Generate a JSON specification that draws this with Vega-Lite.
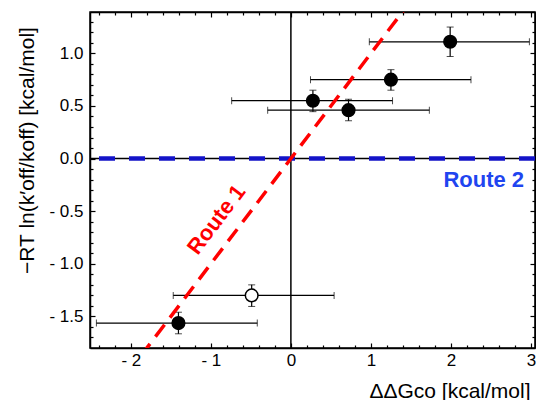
{
  "$schema": "https://vega.github.io/schema/vega-lite/v6.json",
  "autosize": "none",
  "width": 445,
  "height": 336,
  "padding": {"left": 90, "top": 12, "right": 1, "bottom": 52},
  "background": "white",
  "config": {
    "view": {"stroke": "black", "strokeWidth": 1.5},
    "font": "Liberation Sans",
    "axis": {
      "domainColor": "black", "domainWidth": 1.5, "tickColor": "black", "tickWidth": 1.2,
      "grid": false, "labelFont": "Liberation Sans", "labelFontSize": 17, "labelColor": "black",
      "titleFont": "Liberation Sans", "titleFontSize": 21, "titleFontWeight": "normal", "titleColor": "black",
      "labelFlush": false, "labelOverlap": false
    }
  },
  "datasets": {
    "pts": [
      {"x": 1.99, "y": 1.11, "xlo": 0.98, "xhi": 2.98, "ylo": 0.97, "yhi": 1.25, "kind": "filled"},
      {"x": 1.25, "y": 0.75, "xlo": 0.245, "xhi": 2.25, "ylo": 0.65, "yhi": 0.845, "kind": "filled"},
      {"x": 0.275, "y": 0.55, "xlo": -0.74, "xhi": 1.27, "ylo": 0.446, "yhi": 0.65, "kind": "filled"},
      {"x": 0.72, "y": 0.46, "xlo": -0.29, "xhi": 1.73, "ylo": 0.36, "yhi": 0.564, "kind": "filled"},
      {"x": -0.49, "y": -1.30, "xlo": -1.47, "xhi": 0.54, "ylo": -1.405, "yhi": -1.20, "kind": "open"},
      {"x": -1.405, "y": -1.563, "xlo": -2.43, "xhi": -0.42, "ylo": -1.665, "yhi": -1.46, "kind": "filled"}
    ],
    "route1": [{"x": -2.6, "y": -2.6}, {"x": 3.1, "y": 3.1}],
    "zero": [{"v": 0}],
    "lab1": [{"x": -0.93, "y": -0.58, "t": "Route 1"}],
    "lab2": [{"x": 2.41, "y": -0.20, "t": "Route 2"}]
  },
  "resolve": {"axis": {"x": "independent", "y": "independent"}},
  "layer": [
    {
      "data": {"name": "pts"},
      "mark": {"type": "errorbar", "ticks": {"size": 7, "color": "black"}, "rule": {"strokeWidth": 1.2, "color": "black"}, "color": "black"},
      "encoding": {
        "x": {"field": "xlo", "type": "quantitative",
              "scale": {"domain": [-2.51, 3.05], "nice": false, "zero": false},
              "axis": {"orient": "bottom", "values": [-2, -1, 0, 1, 2, 3], "tickSize": -5, "labelPadding": 9,
                       "labelExpr": "datum.value < 0 ? '- ' + format(-datum.value, 'd') : format(datum.value, 'd')",
                       "title": "ΔΔGco [kcal/mol]", "titleAnchor": "end", "titleAlign": "right", "titleX": 440, "titleY": 32, "titleBaseline": "top"}},
        "x2": {"field": "xhi"},
        "y": {"field": "y", "type": "quantitative",
              "scale": {"domain": [-1.8, 1.393], "nice": false, "zero": false},
              "axis": {"orient": "left", "values": [-1.5, -1, -0.5, 0, 0.5, 1], "tickSize": -5, "labelPadding": 12,
                       "labelExpr": "datum.value < 0 ? '- ' + format(-datum.value, '.1f') : format(datum.value, '.1f')",
                       "title": "−RT ln(k′off/koff)  [kcal/mol]", "titleX": -63, "titleY": 138, "titleAngle": -90, "titleAlign": "center", "titleBaseline": "middle"}}
      }
    },
    {
      "data": {"name": "pts"},
      "mark": {"type": "errorbar", "ticks": {"size": 7, "color": "black"}, "rule": {"strokeWidth": 1.2, "color": "black"}, "color": "black"},
      "encoding": {
        "y": {"field": "ylo", "type": "quantitative",
              "axis": {"orient": "left", "values": [-1.7,-1.6,-1.4,-1.3,-1.2,-1.1,-0.9,-0.8,-0.7,-0.6,-0.4,-0.3,-0.2,-0.1,0.1,0.2,0.3,0.4,0.6,0.7,0.8,0.9,1.1,1.2,1.3],
                       "tickSize": -3, "labels": false, "title": null, "domain": false}},
        "y2": {"field": "yhi"},
        "x": {"field": "x", "type": "quantitative",
              "axis": {"orient": "bottom", "values": [-2.4,-2.2,-1.8,-1.6,-1.4,-1.2,-0.8,-0.6,-0.4,-0.2,0.2,0.4,0.6,0.8,1.2,1.4,1.6,1.8,2.2,2.4,2.6,2.8],
                       "tickSize": -3, "labels": false, "title": null, "domain": false}}
      }
    },
    {
      "data": {"name": "zero"},
      "mark": {"type": "rule", "color": "black", "strokeWidth": 1.5},
      "encoding": {
        "x": {"field": "v", "type": "quantitative",
              "axis": {"orient": "top", "values": [-2, -1, 0, 1, 2, 3], "tickSize": -5, "labels": false, "title": null}}
      }
    },
    {
      "data": {"name": "zero"},
      "mark": {"type": "rule", "color": "black", "strokeWidth": 1.5},
      "encoding": {
        "y": {"field": "v", "type": "quantitative",
              "axis": {"orient": "right", "values": [-1.5, -1, -0.5, 0, 0.5, 1], "tickSize": -5, "labels": false, "title": null}}
      }
    },
    {
      "data": {"name": "zero"},
      "mark": {"type": "rule", "color": "#1414c8", "strokeWidth": 4.5, "strokeDash": [16, 14]},
      "encoding": {
        "y": {"field": "v", "type": "quantitative",
              "axis": {"orient": "right", "values": [-1.7,-1.6,-1.4,-1.3,-1.2,-1.1,-0.9,-0.8,-0.7,-0.6,-0.4,-0.3,-0.2,-0.1,0.1,0.2,0.3,0.4,0.6,0.7,0.8,0.9,1.1,1.2,1.3],
                       "tickSize": -3, "labels": false, "title": null, "domain": false}}
      }
    },
    {
      "data": {"name": "route1"},
      "mark": {"type": "line", "color": "#ff0000", "strokeWidth": 3.5, "strokeDash": [15, 9], "clip": true},
      "encoding": {
        "x": {"field": "x", "type": "quantitative",
              "axis": {"orient": "top", "values": [-2.4,-2.2,-1.8,-1.6,-1.4,-1.2,-0.8,-0.6,-0.4,-0.2,0.2,0.4,0.6,0.8,1.2,1.4,1.6,1.8,2.2,2.4,2.6,2.8],
                       "tickSize": -3, "labels": false, "title": null, "domain": false}},
        "y": {"field": "y", "type": "quantitative", "axis": null}
      }
    },
    {
      "data": {"name": "pts"},
      "mark": {"type": "point", "filled": false, "size": 160, "stroke": "black", "strokeWidth": 1.5, "opacity": 1},
      "encoding": {
        "x": {"field": "x", "type": "quantitative", "axis": null},
        "y": {"field": "y", "type": "quantitative", "axis": null},
        "fill": {"field": "kind", "type": "nominal", "scale": {"domain": ["filled", "open"], "range": ["black", "white"]}, "legend": null}
      }
    },
    {
      "data": {"name": "lab1"},
      "mark": {"type": "text", "color": "#ff0000", "fontSize": 22, "fontWeight": "bold", "angle": -53, "align": "center", "baseline": "middle"},
      "encoding": {
        "x": {"field": "x", "type": "quantitative", "axis": null},
        "y": {"field": "y", "type": "quantitative", "axis": null},
        "text": {"field": "t"}
      }
    },
    {
      "data": {"name": "lab2"},
      "mark": {"type": "text", "color": "#1f45f0", "fontSize": 22, "fontWeight": "bold", "align": "center", "baseline": "middle"},
      "encoding": {
        "x": {"field": "x", "type": "quantitative", "axis": null},
        "y": {"field": "y", "type": "quantitative", "axis": null},
        "text": {"field": "t"}
      }
    }
  ]
}
